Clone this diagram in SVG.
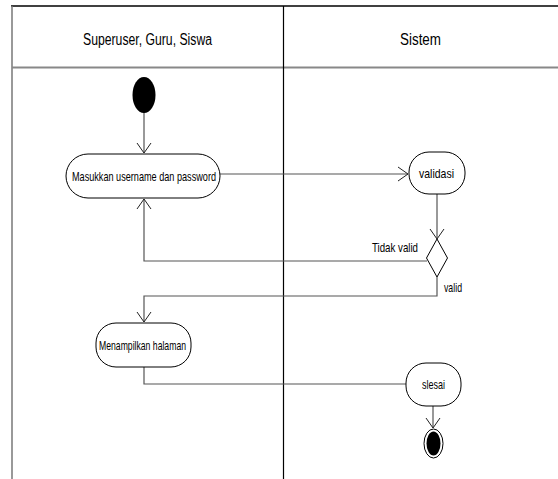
<svg xmlns="http://www.w3.org/2000/svg" width="558" height="479" viewBox="0 0 558 479">
<defs>
<marker id="open" markerWidth="12" markerHeight="16" refX="11" refY="8" orient="auto" markerUnits="userSpaceOnUse">
<path d="M1,1 L11,8 L1,15" fill="none" stroke="#222" stroke-width="1"/>
</marker>
<style>
.t{font-family:"Liberation Sans",Arial,sans-serif;fill:#000}
.h{font-size:16px;text-anchor:middle}
.a{font-size:13px;text-anchor:middle}
.box{fill:#fff;stroke:#000;stroke-width:1}
.c{fill:none;stroke:#555;stroke-width:1.2}
</style>
</defs>
<rect width="558" height="479" fill="#fff"/>
<g id="lanes">
<line x1="11" y1="6" x2="558" y2="6" stroke="#000" stroke-width="1.5"/>
<line x1="12" y1="6" x2="12" y2="479" stroke="#777" stroke-width="1.5"/>
<line x1="12" y1="67.5" x2="558" y2="67.5" stroke="#888" stroke-width="2"/>
<line x1="283.5" y1="6" x2="283.5" y2="479" stroke="#000" stroke-width="1.2"/>
<text class="t h" x="147.5" y="45" textLength="129" lengthAdjust="spacingAndGlyphs">Superuser, Guru, Siswa</text>
<text class="t h" x="420.5" y="45" textLength="41" lengthAdjust="spacingAndGlyphs">Sistem</text>
</g>
<g id="connectors">
<line class="c" x1="144" y1="112" x2="144" y2="153" marker-end="url(#open)"/>
<line class="c" x1="220" y1="174" x2="408" y2="174" marker-end="url(#open)"/>
<line class="c" x1="437" y1="194" x2="437" y2="239" marker-end="url(#open)"/>
<polyline class="c" points="427,261 144,261 144,199" marker-end="url(#open)"/>
<polyline class="c" points="437,277 437,296 144,296 144,322" marker-end="url(#open)"/>
<polyline class="c" points="144,367 144,384 406,384"/>
<line class="c" x1="433" y1="406" x2="433" y2="428" marker-end="url(#open)"/>
<text class="t" x="372" y="252" font-size="13" textLength="46" lengthAdjust="spacingAndGlyphs">Tidak valid</text>
<text class="t" x="444" y="292" font-size="13" textLength="18" lengthAdjust="spacingAndGlyphs">valid</text>
</g>
<g id="start">
<ellipse cx="144" cy="95" rx="11.5" ry="18" fill="#000"/>
</g>
<g id="masukkan">
<rect class="box" x="66" y="154" width="154" height="44" rx="22" ry="22"/>
<text class="t a" x="144" y="181" textLength="144" lengthAdjust="spacingAndGlyphs">Masukkan username dan password</text>
</g>
<g id="validasi">
<rect class="box" x="409" y="152" width="56" height="42" rx="20" ry="20"/>
<text class="t a" x="436.5" y="178" textLength="35" lengthAdjust="spacingAndGlyphs">validasi</text>
</g>
<g id="decision">
<polygon class="box" points="437,239 447.5,258 437,277 426.5,258"/>
</g>
<g id="menampilkan">
<rect class="box" x="96" y="323" width="95" height="44" rx="20" ry="20"/>
<text class="t a" x="142.5" y="350" textLength="87" lengthAdjust="spacingAndGlyphs">Menampilkan halaman</text>
</g>
<g id="slesai">
<rect class="box" x="406" y="363" width="55" height="43" rx="20" ry="20"/>
<text class="t a" x="433.5" y="389" textLength="23" lengthAdjust="spacingAndGlyphs">slesai</text>
</g>
<g id="end">
<ellipse cx="433.5" cy="443.5" rx="9.5" ry="14.5" fill="#fff" stroke="#000" stroke-width="1"/>
<ellipse cx="433.5" cy="443.5" rx="7" ry="12" fill="#000"/>
</g>
</svg>
